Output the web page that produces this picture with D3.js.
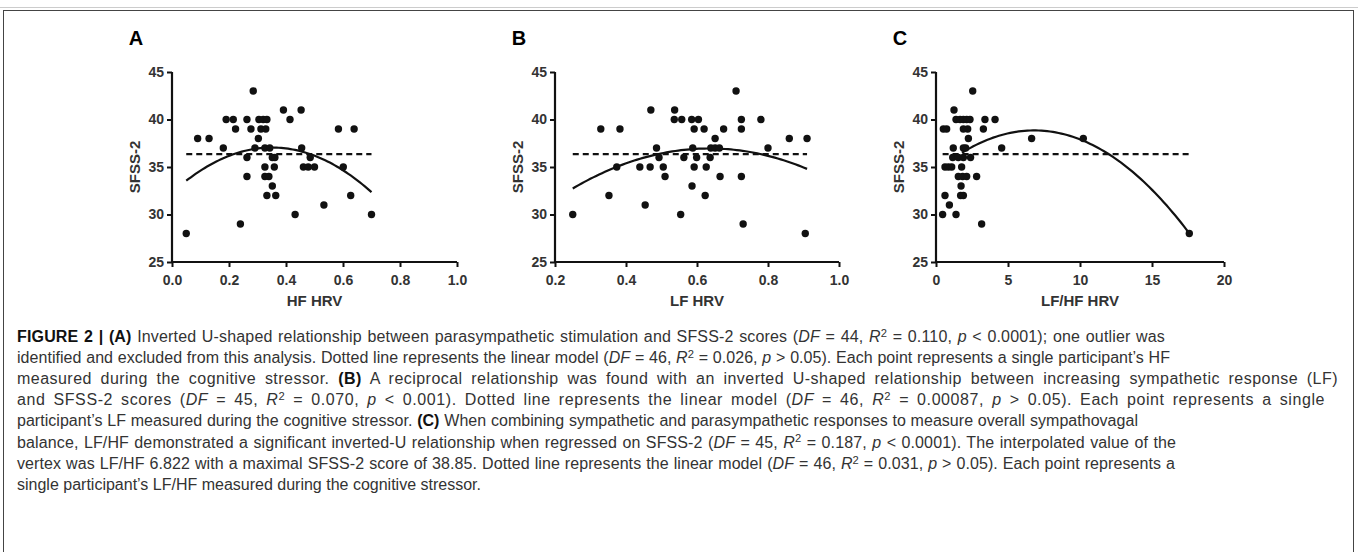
<!DOCTYPE html>
<html lang="en">
<head>
  <meta charset="UTF-8" />
  <title>Figure 2 - SFSS-2 vs HRV</title>
  <script src="https://d3js.org/d3.v7.min.js"></script>
  <style>
    body { margin: 0; background: #fff; }
    .tick-label { font-family: "Liberation Sans", Arial, sans-serif; font-weight: bold; font-size: 14px; fill: #333; }
    .axis-title { font-family: "Liberation Sans", Arial, sans-serif; font-weight: bold; font-size: 15px; fill: #333; }
    .panel-letter { font-family: "Liberation Sans", Arial, sans-serif; font-weight: bold; font-size: 20px; fill: #000; }
    .caption { font-family: "Liberation Sans Narrow", "Liberation Sans", Arial, sans-serif; font-size: 16px; fill: #333; }
  </style>
</head>
<body>
  <svg width="1358" height="552"></svg>

  <script>
    // SFSS-2 score ticks (shared by all panels)
    const scoreTicks = [25, 30, 35, 40, 45];

    // Panel A: HF HRV
    const hfHrv = [0.05, 0.09, 0.13, 0.18, 0.19, 0.215, 0.223, 0.24, 0.263, 0.277,
      0.285, 0.263, 0.263, 0.291, 0.303, 0.305, 0.32, 0.333, 0.312, 0.329,
      0.326, 0.343, 0.352, 0.361, 0.326, 0.359, 0.326, 0.340, 0.352, 0.333,
      0.364, 0.391, 0.414, 0.453, 0.455, 0.485, 0.461, 0.478, 0.500, 0.432,
      0.533, 0.584, 0.639, 0.601, 0.627, 0.70];
    const hfScore = [28, 38, 38, 37, 40, 40, 39, 29, 40, 39,
      43, 36, 34, 37, 38, 40, 40, 40, 39, 39,
      37, 37, 36, 36, 35, 35, 34, 34, 33, 32,
      32, 41, 40, 41, 37, 36, 35, 35, 35, 30,
      31, 39, 39, 35, 32, 30];

    // Panel B: LF HRV
    const lfHrv = [0.25, 0.329, 0.383, 0.374, 0.352, 0.439, 0.468, 0.454, 0.47, 0.486,
      0.493, 0.505, 0.51, 0.537, 0.536, 0.557, 0.554, 0.563, 0.585, 0.604,
      0.592, 0.62, 0.588, 0.599, 0.592, 0.586, 0.626, 0.623, 0.637, 0.639,
      0.651, 0.663, 0.651, 0.665, 0.675, 0.71, 0.725, 0.725, 0.725, 0.73,
      0.78, 0.80, 0.86, 0.91, 0.905];
    const lfScore = [30, 39, 39, 35, 32, 35, 35, 31, 41, 37,
      36, 35, 34, 41, 40, 40, 30, 36, 40, 40,
      39, 39, 37, 36, 35, 33, 35, 32, 36, 37,
      37, 37, 38, 34, 39, 43, 40, 39, 34, 29,
      40, 37, 38, 38, 28];

    // Panel C: LF/HF HRV
    const ratioHrv = [0.46, 1.39, 0.625, 0.93, 0.51, 0.74, 0.625, 0.86, 1.09, 1.2,
      1.25, 1.39, 1.67, 1.9, 2.13, 2.36, 1.9, 2.2, 2.25, 1.9,
      2.06, 1.16, 1.55, 1.9, 2.4, 1.78, 1.55, 1.85, 2.13, 1.74,
      1.71, 1.9, 2.55, 2.82, 3.17, 3.29, 3.4, 4.1, 4.56, 6.64,
      10.23, 17.59];
    const ratioScore = [30, 30, 32, 31, 39, 39, 35, 35, 35, 37,
      41, 40, 40, 40, 40, 40, 39, 39, 38, 37,
      37, 36, 36, 36, 36, 35, 34, 34, 34, 33,
      32, 32, 43, 34, 29, 39, 40, 40, 37, 38,
      38, 28];

    // quadratic fits (vertex form y = k - a (x - h)^2), their drawn x range, and linear model level
    const vertexX = [0.351, 0.635, 6.822];
    const vertexY = [37.05, 36.95, 38.85];
    const curvature = [38.6, 28.4, 0.0934];
    const fitFrom = [0.05, 0.25, 1.8];
    const fitTo = [0.70, 0.91, 17.59];
    const linearLevel = [36.35, 36.35, 36.35];

    const panels = [
      { letter: "A", title: "HF HRV", x: hfHrv, y: hfScore, domain: [0, 1], ticks: [0, 0.2, 0.4, 0.6, 0.8, 1.0], fmt: d3.format(".1f"), left: 172, right: 457 },
      { letter: "B", title: "LF HRV", x: lfHrv, y: lfScore, domain: [0.2, 1], ticks: [0.2, 0.4, 0.6, 0.8, 1.0], fmt: d3.format(".1f"), left: 555, right: 839 },
      { letter: "C", title: "LF/HF HRV", x: ratioHrv, y: ratioScore, domain: [0, 20], ticks: [0, 5, 10, 15, 20], fmt: d3.format("d"), left: 936, right: 1224 }
    ];

    const svg = d3.select("svg");
    const plotTop = 72, plotBottom = 262;

    // outer frame (open at the bottom edge of the crop)
    svg.append("line").attr("x1", 0).attr("x2", 1358).attr("y1", 7.5).attr("y2", 7.5)
      .attr("stroke", "#ccc").attr("stroke-width", 1);
    svg.append("rect").attr("x", 3.5).attr("y", 10.5).attr("width", 1350).attr("height", 560)
      .attr("fill", "none").attr("stroke", "#444").attr("stroke-width", 1);

    const y = d3.scaleLinear().domain([25, 45]).range([plotBottom, plotTop]);

    panels.forEach((p, i) => {
      const x = d3.scaleLinear().domain(p.domain).range([p.left, p.right]);
      const g = svg.append("g");

      // x axis
      const xAxis = g.append("g").attr("transform", `translate(0,${plotBottom})`)
        .call(d3.axisBottom(x).tickValues(p.ticks).tickFormat(p.fmt).tickSize(5).tickPadding(5));
      // y axis
      const yAxis = g.append("g").attr("transform", `translate(${p.left},0)`)
        .call(d3.axisLeft(y).tickValues(scoreTicks).tickSize(5).tickPadding(3));

      [xAxis, yAxis].forEach(ax => {
        ax.attr("font-size", null).attr("font-family", null);
        ax.select(".domain").attr("stroke", "#111").attr("stroke-width", 2.2);
        ax.selectAll(".tick line").attr("stroke", "#111").attr("stroke-width", 2);
        ax.selectAll(".tick text").attr("class", "tick-label").attr("fill", null);
      });
      xAxis.select(".domain").attr("d", `M${p.left},0H${p.right}`);
      yAxis.select(".domain").attr("d", `M0,${plotTop}V${plotBottom}`);
      xAxis.selectAll(".tick text").attr("dy", "0.95em");

      // linear model (dashed)
      const xr = d3.extent(p.x);
      g.append("line")
        .attr("x1", x(xr[0])).attr("x2", x(xr[1]))
        .attr("y1", y(linearLevel[i])).attr("y2", y(linearLevel[i]))
        .attr("stroke", "#111").attr("stroke-width", 2.2)
        .attr("stroke-dasharray", "6,4");

      // quadratic fit
      const fit = v => vertexY[i] - curvature[i] * (v - vertexX[i]) ** 2;
      const xs = d3.range(0, 81).map(k => fitFrom[i] + (fitTo[i] - fitFrom[i]) * k / 80);
      g.append("path")
        .datum(xs)
        .attr("fill", "none").attr("stroke", "#111").attr("stroke-width", 2.2)
        .attr("d", d3.line().x(v => x(v)).y(v => y(fit(v))));

      // points
      g.append("g").selectAll("circle")
        .data(p.x.map((v, k) => [v, p.y[k]]))
        .join("circle")
          .attr("cx", d => x(d[0]))
          .attr("cy", d => y(d[1]))
          .attr("r", 3.7)
          .attr("fill", "#111");

      // titles
      g.append("text").attr("class", "axis-title")
        .attr("x", (p.left + p.right) / 2).attr("y", 306)
        .attr("text-anchor", "middle").text(p.title);
      g.append("text").attr("class", "axis-title")
        .attr("transform", `translate(${p.left - 37},${(plotTop + plotBottom) / 2}) rotate(-90)`)
        .attr("dy", "0.35em")
        .attr("text-anchor", "middle").text("SFSS-2");
      g.append("text").attr("class", "panel-letter")
        .attr("x", p.left - 36).attr("y", 45)
        .attr("text-anchor", "middle").text(p.letter);
    });

    // caption: *bold*, _italic_, ^2 superscript
    const captionLines = [
      "*FIGURE 2 | (A)* Inverted U-shaped relationship between parasympathetic stimulation and SFSS-2 scores (_DF_ = 44, _R_^2 = 0.110, _p_ < 0.0001); one outlier was",
      "identified and excluded from this analysis. Dotted line represents the linear model (_DF_ = 46, _R_^2 = 0.026, _p_ > 0.05). Each point represents a single participant\u2019s HF",
      "measured during the cognitive stressor. *(B)* A reciprocal relationship was found with an inverted U-shaped relationship between increasing sympathetic response (LF)",
      "and SFSS-2 scores (_DF_ = 45, _R_^2 = 0.070, _p_ < 0.001). Dotted line represents the linear model (_DF_ = 46, _R_^2 = 0.00087, _p_ > 0.05). Each point represents a single",
      "participant\u2019s LF measured during the cognitive stressor. *(C)* When combining sympathetic and parasympathetic responses to measure overall sympathovagal",
      "balance, LF/HF demonstrated a significant inverted-U relationship when regressed on SFSS-2 (_DF_ = 45, _R_^2 = 0.187, _p_ < 0.0001). The interpolated value of the",
      "vertex was LF/HF 6.822 with a maximal SFSS-2 score of 38.85. Dotted line represents the linear model (_DF_ = 46, _R_^2 = 0.031, _p_ > 0.05). Each point represents a",
      "single participant\u2019s LF/HF measured during the cognitive stressor."
    ];
    // right end of each line in the figure
    const captionEnds = [1165, 1170, 1338, 1325, 1138, 1176, 1175, 482];

    const cap = svg.append("g").attr("class", "caption");
    captionLines.forEach((line, k) => {
      const t = cap.append("text").attr("x", 17).attr("y", 342 + k * 21.1);
      let raised = false;
      let chars = 0;
      line.split(/(\*[^*]+\*|_[^_]+_|\^2)/).filter(s => s).forEach(s => {
        let ts;
        if (s[0] === "*") ts = t.append("tspan").attr("font-weight", "bold").attr("fill", "#111").text(s.slice(1, -1));
        else if (s[0] === "_") ts = t.append("tspan").attr("font-style", "italic").text(s.slice(1, -1));
        else if (s === "^2") ts = t.append("tspan").attr("font-size", "0.7em").attr("dy", "-0.45em").text("2");
        else ts = t.append("tspan").text(s);
        chars += ts.text().length;
        // drop back to the baseline after a superscript
        if (raised) ts.attr("dy", "0.315em");
        raised = s === "^2";
      });
      // spread the line so it ends where it does in the figure (last line stays ragged):
      // half of the difference goes to letter spacing, half to word spacing
      if (k < captionLines.length - 1) {
        const extra = captionEnds[k] - 17 - t.node().getComputedTextLength();
        const gaps = (line.match(/ /g) || []).length;
        t.style("letter-spacing", `${extra * 0.5 / chars}px`)
         .style("word-spacing", `${extra * 0.5 / gaps}px`);
      }
    });
  </script>
</body>
</html>
